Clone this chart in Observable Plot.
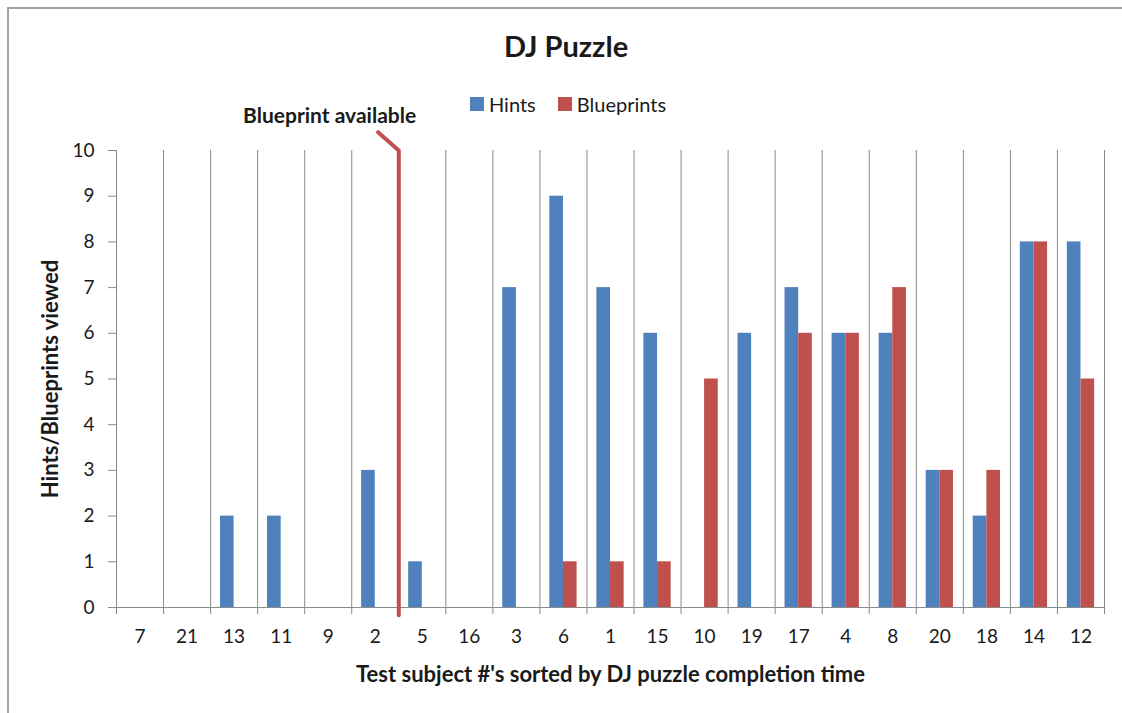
<!DOCTYPE html>
<html>
<head>
<meta charset="utf-8">
<script src="https://cdn.jsdelivr.net/npm/d3@7"></script>
<script src="https://cdn.jsdelivr.net/npm/@observablehq/plot@0.6"></script>
<style>
  html, body { margin: 0; padding: 0; background: #fff; }
  #chart { position: relative; width: 1122px; height: 713px; overflow: hidden; font-family: Lato, "Noto Sans", sans-serif; color: #1a1a1a; }
  #frame { position: absolute; left: 7px; top: 7px; right: -4px; bottom: -4px; border-top: 2px solid #a3a3a3; border-left: 2px solid #a3a3a3; }
  #title { position: absolute; left: 0; width: 1132px; top: 28px; line-height: 36px; text-align: center; font-weight: bold; font-size: 29px; }
  #legend { position: absolute; left: 470px; top: 91px; height: 26px; display: flex; align-items: center; font-size: 20px; }
  #legend .sw { display: inline-block; width: 14px; height: 14px; margin-right: 5px; }
  #legend .item { display: flex; align-items: center; margin-right: 22px; }
  svg { position: absolute; left: 0; top: 0; }
</style>
</head>
<body>
<div id="chart">
  <div id="frame"></div>
  <div id="title">DJ Puzzle</div>
  <div id="legend"></div>
</div>
<script>
// Test subjects in order of DJ puzzle completion time
const subjects = ["7", "21", "13", "11", "9", "2", "5", "16", "3", "6", "1", "15", "10", "19", "17", "4", "8", "20", "18", "14", "12"];
const hints      = [0, 0, 2, 2, 0, 3, 1, 0, 7, 9, 7, 6, 0, 6, 7, 6, 6, 3, 2, 8, 8];
const blueprints = [0, 0, 0, 0, 0, 0, 0, 0, 0, 1, 1, 1, 5, 0, 6, 6, 7, 3, 3, 8, 5];
const yTicks = [0, 1, 2, 3, 4, 5, 6, 7, 8, 9, 10];

const seriesNames = ["Hints", "Blueprints"];
const seriesColors = ["#4F81BD", "#C0504D"];

// Callout marking the point where blueprints became available (after subject 2)
const calloutText = "Blueprint available";
const calloutX = [6, 6, 5.56];
const calloutY = [-0.17, 10, 10.4];
const calloutLabelX = 4.53;
const calloutLabelY = 10.76;

const rows = subjects.map((s, i) => ({i, subject: s, hints: hints[i], blueprints: blueprints[i]}));
const boundaries = d3.range(0, subjects.length + 1);
const centers = subjects.map((s, i) => i + 0.5);
const callout = calloutX.map((x, k) => ({x, y: calloutY[k]}));

const grey = "#8a8a8a";
const ink = "#1a1a1a";
const font = "Lato, 'Noto Sans', sans-serif";

const plot = Plot.plot({
  width: 1122,
  height: 713,
  marginLeft: 116,
  marginRight: 18,
  marginTop: 150,
  marginBottom: 106,
  style: {fontFamily: font, fontSize: "19px", color: ink, background: "transparent", overflow: "visible"},
  x: {domain: [0, subjects.length]},
  y: {domain: [0, 10]},
  marks: [
    // vertical gridlines at category boundaries
    Plot.ruleX(boundaries.slice(1), {y1: 0, y2: 10, stroke: grey, strokeWidth: 1}),
    // category boundary ticks below the axis
    Plot.axisX({ticks: boundaries, tickSize: 7, tickFormat: () => "", stroke: grey, strokeOpacity: 1, label: null}),
    // category labels
    Plot.axisX({ticks: centers, tickSize: 0, tickPadding: 22, tickFormat: (d) => subjects[Math.floor(d)], fontSize: 19, label: null}),
    Plot.axisY({ticks: yTicks, tickSize: 8, tickPadding: 14, stroke: grey, strokeOpacity: 1, fontSize: 19, label: null}),
    Plot.rectY(rows.filter(d => d.hints > 0), {x1: d => d.i + 0.21, x2: d => d.i + 0.5, y: "hints", fill: seriesColors[0]}),
    Plot.rectY(rows.filter(d => d.blueprints > 0), {x1: d => d.i + 0.5, x2: d => d.i + 0.79, y: "blueprints", fill: seriesColors[1]}),
    Plot.ruleX([0], {y1: 0, y2: 10, stroke: grey}),
    Plot.ruleY([0], {stroke: grey}),
    Plot.line(callout, {x: "x", y: "y", stroke: seriesColors[1], strokeWidth: 4}),
    Plot.text([calloutText], {x: calloutLabelX, y: calloutLabelY, text: d => d, fontWeight: "bold", fontSize: 21, fill: ink}),
    Plot.text(["Test subject #'s sorted by DJ puzzle completion time"], {frameAnchor: "bottom", dy: 67, textAnchor: "middle", lineAnchor: "middle", fontWeight: "bold", fontSize: 22, fill: ink}),
    Plot.text(["Hints/Blueprints viewed"], {frameAnchor: "left", dx: -66, rotate: -90, textAnchor: "middle", lineAnchor: "middle", fontWeight: "bold", fontSize: 22, fill: ink})
  ]
});
document.getElementById("chart").appendChild(plot);

const legend = document.getElementById("legend");
seriesNames.forEach((name, k) => {
  const item = document.createElement("span");
  item.className = "item";
  item.innerHTML = `<span class="sw" style="background:${seriesColors[k]}"></span>${name}`;
  legend.appendChild(item);
});
</script>
</body>
</html>
